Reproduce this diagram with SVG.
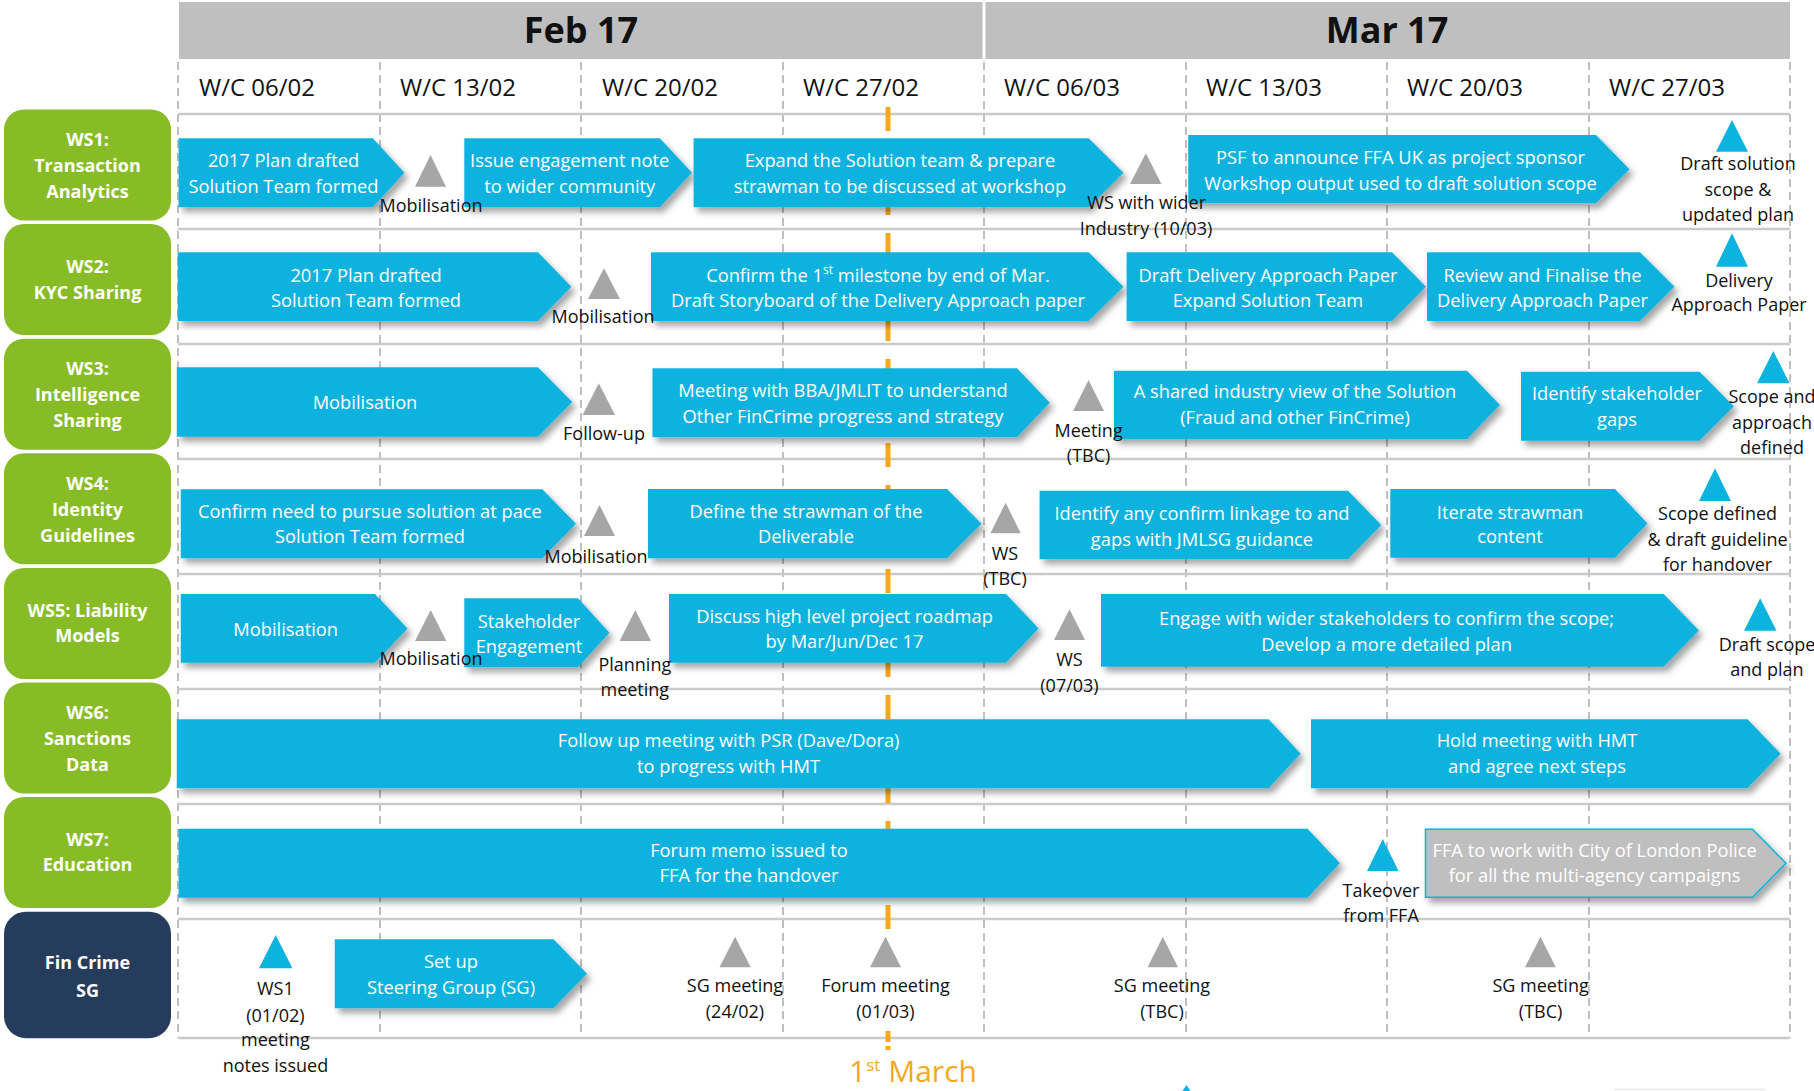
<svg xmlns="http://www.w3.org/2000/svg" width="1814" height="1091" viewBox="0 0 1814 1091">
<defs>
<filter id="sh" x="-5%" y="-20%" width="115%" height="160%">
<feDropShadow dx="4" dy="5" stdDeviation="3" flood-color="#000" flood-opacity="0.35"/>
</filter>
<style>
text{font-family:'Open Sans','Noto Sans','DejaVu Sans',sans-serif;}
.bar{fill:#0bb3de;filter:url(#sh);}
.gbar{fill:#bfbfbf;stroke:#0bb3de;stroke-width:1.5;filter:url(#sh);}
.bt{font-size:18.3px;fill:#fff;text-anchor:middle;}
.lt{font-size:18px;fill:#111;text-anchor:middle;}
.gt{fill:#a6a6a6;}
.bl{fill:#0bb3de;}
.ws{fill:#87bc26;}
.wt{font-size:18px;font-weight:bold;fill:#fff;text-anchor:middle;}
.row{stroke:#cacaca;stroke-width:2.5;fill:none;}
.col{stroke:#ababab;stroke-width:1.5;stroke-dasharray:8 5;fill:none;}
.wk{font-size:24px;fill:#111;}
.mo{font-size:36px;font-weight:bold;fill:#111;text-anchor:middle;}
.sup{font-size:12px;}
</style>
</defs>
<rect width="1814" height="1091" fill="#fff"/>

<g id="header">
<rect x="179" y="2" width="1611" height="57" fill="#bfbfbf"/>
<line x1="984" y1="2" x2="984" y2="59" stroke="#fff" stroke-width="3"/>
<text class="mo" x="581" y="43">Feb 17</text>
<text class="mo" x="1387" y="43">Mar 17</text>
</g>

<g id="grid">
<line class="col" x1="178" y1="62" x2="178" y2="1038"/>
<line class="col" x1="380" y1="62" x2="380" y2="1038"/>
<line class="col" x1="581" y1="62" x2="581" y2="1038"/>
<line class="col" x1="783" y1="62" x2="783" y2="1038"/>
<line class="col" x1="984" y1="62" x2="984" y2="1038"/>
<line class="col" x1="1186" y1="62" x2="1186" y2="1038"/>
<line class="col" x1="1387" y1="62" x2="1387" y2="1038"/>
<line class="col" x1="1589" y1="62" x2="1589" y2="1038"/>
<line class="col" x1="1790" y1="62" x2="1790" y2="1038"/>
<line class="row" x1="178" y1="114" x2="1790" y2="114"/>
<line class="row" x1="178" y1="229" x2="1790" y2="229"/>
<line class="row" x1="178" y1="344" x2="1790" y2="344"/>
<line class="row" x1="178" y1="459" x2="1790" y2="459"/>
<line class="row" x1="178" y1="574" x2="1790" y2="574"/>
<line class="row" x1="178" y1="689" x2="1790" y2="689"/>
<line class="row" x1="178" y1="804" x2="1790" y2="804"/>
<line class="row" x1="178" y1="919" x2="1790" y2="919"/>
<line class="row" x1="178" y1="1038" x2="1790" y2="1038"/>
</g>

<g id="weeks">
<text class="wk" x="199" y="96">W/C 06/02</text>
<text class="wk" x="400" y="96">W/C 13/02</text>
<text class="wk" x="602" y="96">W/C 20/02</text>
<text class="wk" x="803" y="96">W/C 27/02</text>
<text class="wk" x="1004" y="96">W/C 06/03</text>
<text class="wk" x="1206" y="96">W/C 13/03</text>
<text class="wk" x="1407" y="96">W/C 20/03</text>
<text class="wk" x="1609" y="96">W/C 27/03</text>
</g>

<g id="march-marker">
<line x1="888" y1="107" x2="888" y2="929" stroke="#f5a81f" stroke-width="5" stroke-dasharray="24 18"/>
<line x1="888" y1="1031" x2="888" y2="1042" stroke="#f5a81f" stroke-width="5"/>
<line x1="888" y1="1046" x2="888" y2="1050" stroke="#f5a81f" stroke-width="5"/>
<text x="913" y="1082" font-size="30" fill="#f5a81f" text-anchor="middle">1<tspan style="font-size:17px" baseline-shift="super">st</tspan> March</text>
</g>

<g id="ws1-label"><rect class="ws" x="4" y="109.5" width="167" height="111" rx="20"/>
<text class="wt" x="87.5" y="145.7">WS1:</text><text class="wt" x="87.5" y="171.8">Transaction</text><text class="wt" x="87.5" y="197.8">Analytics</text></g>
<g id="ws2-label"><rect class="ws" x="4" y="224.1" width="167" height="111" rx="20"/>
<text class="wt" x="87.5" y="273.3">WS2:</text><text class="wt" x="87.5" y="299">KYC Sharing</text></g>
<g id="ws3-label"><rect class="ws" x="4" y="338.7" width="167" height="111" rx="20"/>
<text class="wt" x="87.5" y="375">WS3:</text><text class="wt" x="87.5" y="401">Intelligence</text><text class="wt" x="87.5" y="427">Sharing</text></g>
<g id="ws4-label"><rect class="ws" x="4" y="453.3" width="167" height="111" rx="20"/>
<text class="wt" x="87.5" y="489.6">WS4:</text><text class="wt" x="87.5" y="515.6">Identity</text><text class="wt" x="87.5" y="541.6">Guidelines</text></g>
<g id="ws5-label"><rect class="ws" x="4" y="567.9" width="167" height="111" rx="20"/>
<text class="wt" x="87.5" y="616.7">WS5: Liability</text><text class="wt" x="87.5" y="642">Models</text></g>
<g id="ws6-label"><rect class="ws" x="4" y="682.5" width="167" height="111" rx="20"/>
<text class="wt" x="87.5" y="718.8">WS6:</text><text class="wt" x="87.5" y="744.8">Sanctions</text><text class="wt" x="87.5" y="770.8">Data</text></g>
<g id="ws7-label"><rect class="ws" x="4" y="797.1" width="167" height="111" rx="20"/>
<text class="wt" x="87.5" y="845.7">WS7:</text><text class="wt" x="87.5" y="871">Education</text></g>
<g id="sg-label"><rect x="4" y="911.7" width="167" height="126.5" rx="22" fill="#263c5c"/>
<text class="wt" x="87.5" y="969.3" font-size="20">Fin Crime</text><text class="wt" x="87.5" y="997.3" font-size="20">SG</text></g>

<g id="ws1-bar1"><path class="bar" d="M178.6,138.3 H372.8 L404.5,172.8 L372.8,207.3 H178.6 Z"/>
<text class="bt" x="283.5" y="166.7">2017 Plan drafted</text><text class="bt" x="283.5" y="192.7">Solution Team formed</text></g>
<g id="ws1-bar2"><path class="bar" d="M464.3,138.3 H659.8 L692,172.8 L659.8,207.3 H464.3 Z"/>
<text class="bt" x="569.7" y="166.7">Issue engagement note</text><text class="bt" x="569.7" y="192.7">to wider community</text></g>
<g id="ws1-bar3"><path class="bar" d="M693.6,138.3 H1088.7 L1123.5,172.8 L1088.7,207.3 H693.6 Z"/>
<text class="bt" x="900" y="166.7">Expand the Solution team &amp; prepare</text><text class="bt" x="900" y="192.7">strawman to be discussed at workshop</text></g>
<g id="ws1-bar4"><path class="bar" d="M1188.2,135 H1596 L1629.5,169.2 L1596,203.3 H1188.2 Z"/>
<text class="bt" x="1400.5" y="163.7">PSF to announce FFA UK as project sponsor</text><text class="bt" x="1400.5" y="189.7">Workshop output used to draft solution scope</text></g>

<g id="ws2-bar1"><path class="bar" d="M177.7,252.3 H538 L571.4,286.7 L538,321 H177.7 Z"/>
<text class="bt" x="366" y="281.7">2017 Plan drafted</text><text class="bt" x="366" y="306.7">Solution Team formed</text></g>
<g id="ws2-bar2"><path class="bar" d="M651,252.3 H1088.7 L1123.5,286.7 L1088.7,321 H651 Z"/>
<text class="bt" x="878" y="281.7">Confirm the 1<tspan class="sup" baseline-shift="super">st</tspan> milestone by end of Mar.</text><text class="bt" x="878" y="306.7">Draft Storyboard of the Delivery Approach paper</text></g>
<g id="ws2-bar3"><path class="bar" d="M1126.6,252.3 H1392 L1426,286.7 L1392,321 H1126.6 Z"/>
<text class="bt" x="1268" y="281.7">Draft Delivery Approach Paper</text><text class="bt" x="1268" y="306.7">Expand Solution Team</text></g>
<g id="ws2-bar4"><path class="bar" d="M1427,252.3 H1640 L1674.5,286.7 L1640,321 H1427 Z"/>
<text class="bt" x="1542.5" y="281.7">Review and Finalise the</text><text class="bt" x="1542.5" y="306.7">Delivery Approach Paper</text></g>

<g id="ws3-bar1"><path class="bar" d="M176.8,367.3 H538 L572.3,402 L538,436.7 H176.8 Z"/>
<text class="bt" x="365" y="409.3">Mobilisation</text></g>
<g id="ws3-bar2"><path class="bar" d="M652.5,368.3 H1017 L1049.8,402.8 L1017,437.3 H652.5 Z"/>
<text class="bt" x="843" y="396.7">Meeting with BBA/JMLIT to understand</text><text class="bt" x="843" y="422.7">Other FinCrime progress and strategy</text></g>
<g id="ws3-bar3"><path class="bar" d="M1114,370.7 H1467 L1500,405 L1467,439.3 H1114 Z"/>
<text class="bt" x="1295" y="398.3">A shared industry view of the Solution</text><text class="bt" x="1295" y="424.3">(Fraud and other FinCrime)</text></g>
<g id="ws3-bar4"><path class="bar" d="M1521,371.7 H1699.6 L1733.8,406.2 L1699.6,440.7 H1521 Z"/>
<text class="bt" x="1617" y="400">Identify stakeholder</text><text class="bt" x="1617" y="425.7">gaps</text></g>

<g id="ws4-bar1"><path class="bar" d="M180.8,489.3 H542.4 L576,523.8 L542.4,558.3 H180.8 Z"/>
<text class="bt" x="370" y="518.3">Confirm need to pursue solution at pace</text><text class="bt" x="370" y="543.3">Solution Team formed</text></g>
<g id="ws4-bar2"><path class="bar" d="M648,489 H947 L981.5,523.7 L947,558.3 H648 Z"/>
<text class="bt" x="806" y="518.3">Define the strawman of the</text><text class="bt" x="806" y="543.3">Deliverable</text></g>
<g id="ws4-bar3"><path class="bar" d="M1039.6,490.7 H1348 L1381.3,525 L1348,559.3 H1039.6 Z"/>
<text class="bt" x="1202" y="520">Identify any confirm linkage to and</text><text class="bt" x="1202" y="546">gaps with JMLSG guidance</text></g>
<g id="ws4-bar4"><path class="bar" d="M1390.3,489 H1615 L1647.5,523.4 L1615,557.7 H1390.3 Z"/>
<text class="bt" x="1510" y="519.3">Iterate strawman</text><text class="bt" x="1510" y="543.3">content</text></g>

<g id="ws5-bar1"><path class="bar" d="M180.8,594 H375 L407.6,628.4 L375,662.7 H180.8 Z"/>
<text class="bt" x="285.7" y="636">Mobilisation</text></g>
<g id="ws5-bar2"><path class="bar" d="M464.3,598.3 H578 L609.4,632.8 L578,667.3 H464.3 Z"/>
<text class="bt" x="529" y="627.7">Stakeholder</text><text class="bt" x="529" y="653.3">Engagement</text></g>
<g id="ws5-bar3"><path class="bar" d="M669,594 H1006 L1038.7,628.4 L1006,662.7 H669 Z"/>
<text class="bt" x="844.5" y="623.3">Discuss high level project roadmap</text><text class="bt" x="844.5" y="648.3">by Mar/Jun/Dec 17</text></g>
<g id="ws5-bar4"><path class="bar" d="M1101,594 H1663.7 L1699,630.4 L1663.7,666.7 H1101 Z"/>
<text class="bt" x="1386.6" y="625">Engage with wider stakeholders to confirm the scope;</text><text class="bt" x="1386.6" y="651">Develop a more detailed plan</text></g>

<g id="ws6-bar1"><path class="bar" d="M176.8,719.3 H1268.6 L1300.7,753.8 L1268.6,788.3 H176.8 Z"/>
<text class="bt" x="728.6" y="746.7">Follow up meeting with PSR (Dave/Dora)</text><text class="bt" x="728.6" y="773.3">to progress with HMT</text></g>
<g id="ws6-bar2"><path class="bar" d="M1311,719.3 H1747.5 L1780.6,753.8 L1747.5,788.3 H1311 Z"/>
<text class="bt" x="1537" y="746.7">Hold meeting with HMT</text><text class="bt" x="1537" y="773.3">and agree next steps</text></g>

<g id="ws7-bar1"><path class="bar" d="M178.6,828.7 H1307.5 L1340,863.2 L1307.5,897.7 H178.6 Z"/>
<text class="bt" x="749" y="856.7">Forum memo issued to</text><text class="bt" x="749" y="881.7">FFA for the handover</text></g>
<g id="ws7-bar2"><path class="gbar" d="M1425.5,829.3 H1752.5 L1786,863.3 L1752.5,897.3 H1425.5 Z"/>
<text class="bt" x="1594.6" y="857.3">FFA to work with City of London Police</text><text class="bt" x="1594.6" y="882.3">for all the multi-agency campaigns</text></g>

<g id="sg-bar1"><path class="bar" d="M334.8,939.3 H553.6 L587,973.8 L553.6,1008.3 H334.8 Z"/>
<text class="bt" x="451" y="968.3">Set up</text><text class="bt" x="451" y="994">Steering Group (SG)</text></g>

<g id="ws1-ms1"><polygon class="gt" points="415,186.7 446,186.7 430.5,155"/><text class="lt" x="431" y="211.7">Mobilisation</text></g>
<g id="ws1-ms2"><polygon class="gt" points="1130,184 1161.5,184 1145.8,153.3"/><text class="lt" x="1146.7" y="209.3">WS with wider</text><text class="lt" x="1146" y="235">Industry (10/03)</text></g>
<g id="ws1-ms3"><polygon class="bl" points="1716,151.7 1748,151.7 1732,120"/><text class="lt" x="1738" y="170">Draft solution</text><text class="lt" x="1738" y="196">scope &amp;</text><text class="lt" x="1738" y="221">updated plan</text></g>
<g id="ws2-ms1"><polygon class="gt" points="588,299 620,299 604,268.3"/><text class="lt" x="603" y="323.3">Mobilisation</text></g>
<g id="ws2-ms2"><polygon class="bl" points="1716,266.7 1748,266.7 1732,233.3"/><text class="lt" x="1739" y="286.7">Delivery</text><text class="lt" x="1739" y="310.5">Approach Paper</text></g>
<g id="ws3-ms1"><polygon class="gt" points="582.6,415 615,415 598.8,383.3"/><text class="lt" x="604" y="440">Follow-up</text></g>
<g id="ws3-ms2"><polygon class="gt" points="1073,411 1104,411 1088.5,380"/><text class="lt" x="1088.6" y="436.7">Meeting</text><text class="lt" x="1088.6" y="461.7">(TBC)</text></g>
<g id="ws3-ms3"><polygon class="bl" points="1757,383.3 1789.5,383.3 1773.3,351"/><text class="lt" x="1772" y="403.3">Scope and</text><text class="lt" x="1772" y="429.3">approach</text><text class="lt" x="1772" y="454">defined</text></g>
<g id="ws4-ms1"><polygon class="gt" points="584,536 615,536 599.5,505"/><text class="lt" x="596" y="562.7">Mobilisation</text></g>
<g id="ws4-ms2"><polygon class="gt" points="990.4,533.3 1020.8,533.3 1005.6,502.7"/><text class="lt" x="1005" y="560">WS</text><text class="lt" x="1005" y="585">(TBC)</text></g>
<g id="ws4-ms3"><polygon class="bl" points="1699,501 1731,501 1715,468.3"/><text class="lt" x="1717.6" y="520">Scope defined</text><text class="lt" x="1717.6" y="546">&amp; draft guideline</text><text class="lt" x="1717.6" y="570.7">for handover</text></g>
<g id="ws5-ms1"><polygon class="gt" points="415,641 446.4,641 430.7,610"/><text class="lt" x="431" y="665">Mobilisation</text></g>
<g id="ws5-ms2"><polygon class="gt" points="619.6,641 651,641 635.3,610"/><text class="lt" x="634.8" y="670.7">Planning</text><text class="lt" x="634.8" y="696">meeting</text></g>
<g id="ws5-ms3"><polygon class="gt" points="1054,640 1085,640 1069.5,609.3"/><text class="lt" x="1069.5" y="666">WS</text><text class="lt" x="1069.5" y="691.7">(07/03)</text></g>
<g id="ws5-ms4"><polygon class="bl" points="1744,630.7 1776.5,630.7 1760.2,598.3"/><text class="lt" x="1767" y="650.5">Draft scope</text><text class="lt" x="1767" y="675.5">and plan</text></g>
<g id="ws7-ms1"><polygon class="bl" points="1367,871 1398.6,871 1382.8,839"/><text class="lt" x="1381" y="896.7">Takeover</text><text class="lt" x="1381" y="921.7">from FFA</text></g>
<g id="sg-ms1"><polygon class="bl" points="259,968.3 292.4,968.3 275.7,935"/><text class="lt" x="275.4" y="995">WS1</text><text class="lt" x="275.4" y="1021.7">(01/02)</text><text class="lt" x="275.4" y="1046">meeting</text><text class="lt" x="275.4" y="1071.7">notes issued</text></g>
<g id="sg-ms2"><polygon class="gt" points="719.5,967.3 750.7,967.3 735.1,936.7"/><text class="lt" x="735" y="992.3">SG meeting</text><text class="lt" x="735" y="1018.3">(24/02)</text></g>
<g id="sg-ms3"><polygon class="gt" points="870,967.3 901,967.3 885.5,936.7"/><text class="lt" x="885.5" y="992.3">Forum meeting</text><text class="lt" x="885.5" y="1018.3">(01/03)</text></g>
<g id="sg-ms4"><polygon class="gt" points="1147.6,967.3 1178,967.3 1162.8,936.7"/><text class="lt" x="1162" y="992.3">SG meeting</text><text class="lt" x="1162" y="1018.3">(TBC)</text></g>
<g id="sg-ms5"><polygon class="gt" points="1525,967.3 1555.8,967.3 1540.4,936.7"/><text class="lt" x="1540.6" y="992.3">SG meeting</text><text class="lt" x="1540.6" y="1018.3">(TBC)</text></g>

<g id="edge-fragments">
<polygon class="bl" points="1186.5,1085 1182.5,1091 1190.5,1091"/>
<line x1="1614" y1="1089.5" x2="1765" y2="1089.5" stroke="#e6e6e6" stroke-width="1.5"/>
</g>
</svg>
